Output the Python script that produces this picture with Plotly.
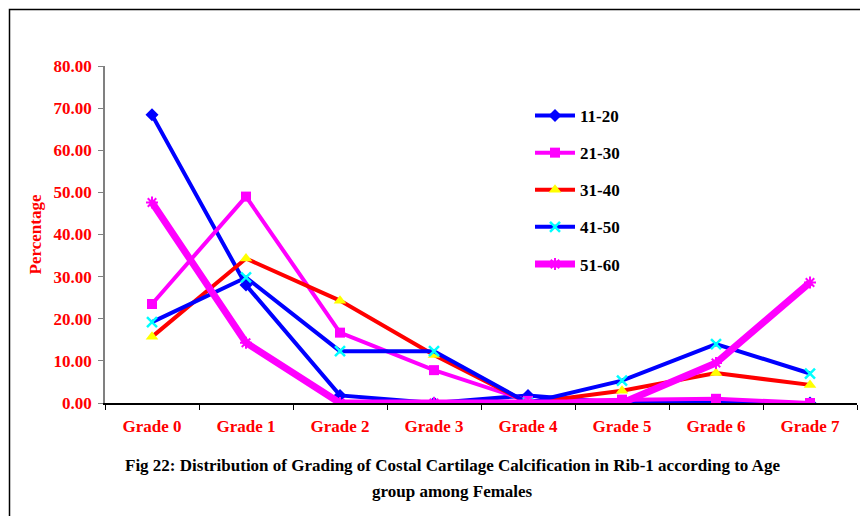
import plotly.graph_objects as go

categories = ["Grade 0", "Grade 1", "Grade 2", "Grade 3", "Grade 4", "Grade 5", "Grade 6", "Grade 7"]
s_11_20 = [68.4, 28.0, 1.8, 0.0, 1.8, 0.0, 0.0, 0.0]
s_21_30 = [23.5, 49.0, 16.7, 7.8, 0.5, 0.8, 1.0, 0.0]
s_31_40 = [15.7, 34.3, 24.3, 11.4, 0.0, 2.9, 7.1, 4.3]
s_41_50 = [19.2, 29.8, 12.3, 12.3, 0.0, 5.3, 14.0, 7.0]
s_51_60 = [47.6, 14.3, 0.0, 0.0, 0.0, 0.0, 9.5, 28.6]
series_names = ["11-20", "21-30", "31-40", "41-50", "51-60"]
y_ticks = [0, 10, 20, 30, 40, 50, 60, 70, 80]
title_lines = ["Fig 22: Distribution of Grading of Costal Cartilage Calcification in Rib-1 according to Age",
               "group among Females"]

FONT = "Liberation Serif"

styles = [
    dict(line=dict(color="#0000FF", width=4),
         marker=dict(symbol="diamond", size=10, color="#0000FF")),
    dict(line=dict(color="#FF00FF", width=4),
         marker=dict(symbol="square", size=10, color="#FF00FF")),
    dict(line=dict(color="#FF0000", width=4),
         marker=dict(symbol="triangle-up", size=11, color="#FFFF00", line=dict(width=0))),
    dict(line=dict(color="#0000FF", width=4),
         marker=dict(symbol="x-thin", size=10, color="#00FFFF", line=dict(color="#00FFFF", width=2.5))),
    dict(line=dict(color="#FF00FF", width=7),
         marker=dict(symbol="asterisk", size=10, color="#FF00FF", line=dict(color="#FF00FF", width=2))),
]

fig = go.Figure()
for name, vals, st in zip(series_names, [s_11_20, s_21_30, s_31_40, s_41_50, s_51_60], styles):
    fig.add_trace(go.Scatter(x=categories, y=vals, name=name, mode="lines+markers",
                             legendgroup=name, **st))

L, T, B = 105, 66, 113
PW, PH = 752, 337


def px(x):
    return (x - L) / PW


def py(y):
    return (T + PH - y) / PH


annotations = [
    dict(text=line, xref="paper", yref="paper", x=px(452), y=py(yc),
         xanchor="center", yanchor="middle", showarrow=False,
         font=dict(family=FONT, size=17, color="black", weight=700))
    for line, yc in zip(title_lines, [466, 491])
]

fig.update_layout(
    width=860, height=516,
    margin=dict(l=L, r=860 - L - PW, t=T, b=B),
    paper_bgcolor="white", plot_bgcolor="white",
    font=dict(family=FONT, size=17, color="black", weight=700),
    showlegend=True,
    legend=dict(x=px(530), y=py(98), xanchor="left", yanchor="top",
                font=dict(family=FONT, size=17, color="black", weight=700),
                tracegroupgap=12, bgcolor="rgba(0,0,0,0)", itemwidth=40),
    xaxis=dict(type="category", range=[-0.5, 7.5], showgrid=False, showline=True,
               linecolor="black", linewidth=1.5, ticks="outside", tickson="boundaries",
               ticklen=5, tickcolor="black", ticklabelstandoff=7,
               tickfont=dict(family=FONT, size=17, color="#FF0000", weight=700)),
    yaxis=dict(range=[0, 80], tickvals=y_ticks, tickformat=".2f", showgrid=False,
               showline=True, linecolor="#808080", linewidth=1.5, ticks="outside",
               ticklen=5, tickcolor="#808080", zeroline=False, ticklabelstandoff=3,
               tickfont=dict(family=FONT, size=17, color="#FF0000", weight=700),
               title=dict(text="Percentage", standoff=8,
                          font=dict(family=FONT, size=17, color="#FF0000", weight=700))),
    annotations=annotations,
    shapes=[dict(type="rect", xref="paper", yref="paper",
                 x0=px(9.5), x1=px(875), y0=py(530), y1=py(9.5),
                 line=dict(color="black", width=1.5), fillcolor="rgba(0,0,0,0)", layer="below")],
)

fig.write_html("out.html", post_script="document.body.style.margin='0';",
               config={"displayModeBar": False})
